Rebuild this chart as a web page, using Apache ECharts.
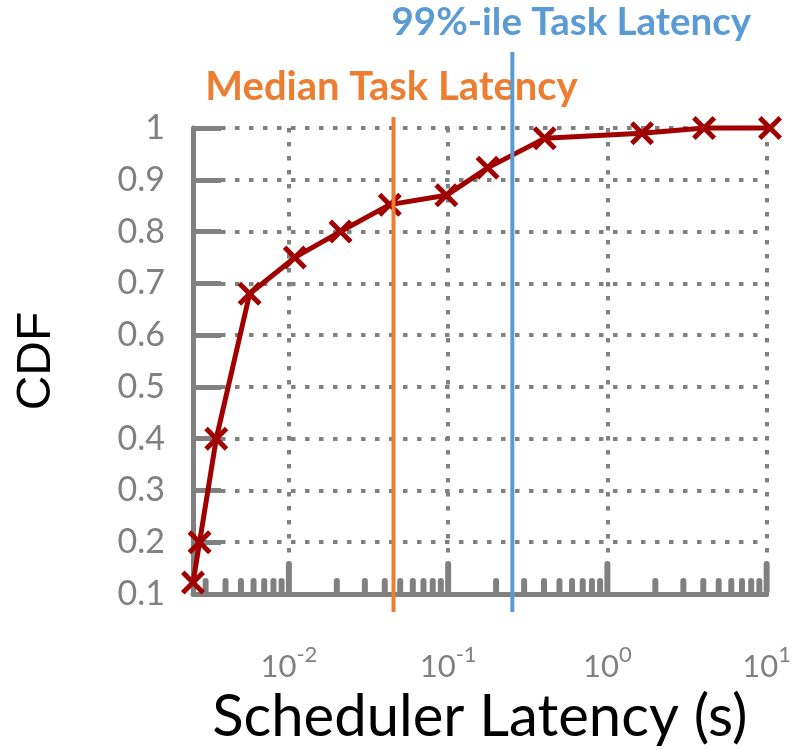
<!DOCTYPE html>
<html>
<head>
<meta charset="utf-8">
<script src="https://cdn.jsdelivr.net/npm/echarts@6/dist/echarts.min.js"></script>
<style>
html,body{margin:0;padding:0;background:#fff;}
#chart{width:794px;height:751px;}
</style>
</head>
<body>
<div id="chart"></div>
<script>
// ---- data ----
const latencyX = [0.0025, 0.00275, 0.0035, 0.00567, 0.0109, 0.0211, 0.043, 0.0975, 0.177, 0.404, 1.65, 4.05, 10.5];
const cdfY     = [0.122, 0.2, 0.4, 0.68, 0.75, 0.8, 0.852, 0.87, 0.923, 0.98, 0.99, 1.0, 1.0];
const xMin = 0.0025, xMax = 10;
const yMin = 0.1, yMax = 1, yStep = 0.1;
const xTickExponents = [-2, -1, 0, 1];
const minorTickValues = [0.003,0.004,0.005,0.006,0.007,0.008,0.009,
                         0.02,0.03,0.04,0.05,0.06,0.07,0.08,0.09,
                         0.2,0.3,0.4,0.5,0.6,0.7,0.8,0.9,
                         2,3,4,5,6,7,8,9];
const refLineValues = [0.0454, 0.253];
const refLineLabels = ['Median Task Latency', '99%-ile Task Latency'];
const xAxisTitle = 'Scheduler Latency (s)';
const yAxisTitle = 'CDF';

// ---- styles ----
const GRAY = '#808080';
const RED = '#A00000';
const refColors = ['#ED7D31', '#5B9BD5'];
const dotted = {color: GRAY, width: 4, type: [4.5, 9.5]};

const chart = echarts.init(document.getElementById('chart'), null, {renderer: 'canvas'});

const seriesData = latencyX.map((x, i) => [x, cdfY[i]]);
const majorTickValues = xTickExponents.map(e => Math.pow(10, e));

function tickSeries(values, h, w) {
  return {
    type: 'custom',
    coordinateSystem: 'cartesian2d',
    clip: false,
    z: 1,
    silent: true,
    data: values.map(v => [v, yMin]),
    renderItem: function (params, api) {
      const p = api.coord([api.value(0), api.value(1)]);
      return {type: 'rect', shape: {x: p[0] - w / 2, y: p[1] - h, width: w, height: h, r: w / 2},
              style: {fill: GRAY}};
    }
  };
}

const option = {
  animation: false,
  backgroundColor: '#fff',
  grid: {left: 193, right: 27, top: 128, bottom: 154},
  xAxis: {
    type: 'log', logBase: 10, min: xMin, max: xMax,
    axisLine: {lineStyle: {color: GRAY, width: 5}},
    axisTick: {show: false},
    splitLine: {show: true, lineStyle: dotted},
    axisLabel: {
      margin: 50,
      formatter: function (v) {
        const e = Math.log10(v);
        const r = Math.round(e);
        if (Math.abs(e - r) > 1e-6 || xTickExponents.indexOf(r) < 0) return '';
        return '{b|10}{s|' + r + '}';
      },
      rich: {
        b: {fontFamily: 'Lato', fontSize: 31, color: GRAY, verticalAlign: 'bottom', lineHeight: 38},
        s: {fontFamily: 'Lato', fontSize: 22, color: GRAY, verticalAlign: 'top', lineHeight: 38}
      }
    },
    name: xAxisTitle, nameLocation: 'middle', nameGap: 94,
    nameTextStyle: {fontFamily: 'Lato', fontSize: 58, color: '#000', verticalAlign: 'top'}
  },
  yAxis: {
    type: 'value', min: yMin, max: yMax, interval: yStep,
    axisLine: {show: true, lineStyle: {color: GRAY, width: 5}},
    axisTick: {show: true, inside: true, length: 28, lineStyle: {color: GRAY, width: 5}},
    splitLine: {show: true, lineStyle: dotted},
    axisLabel: {
      margin: 28, fontFamily: 'Lato', fontSize: 34, color: GRAY,
      formatter: function (v) { return Math.abs(v - 1) < 1e-9 ? '1' : v.toFixed(1); }
    },
    name: yAxisTitle, nameLocation: 'middle', nameRotate: 90, nameGap: 132,
    nameTextStyle: {fontFamily: 'Liberation Sans', fontSize: 48, color: '#000'}
  },
  series: [
    tickSeries(minorTickValues, 16, 6),
    tickSeries(majorTickValues, 33, 6),
    {
      type: 'line',
      data: seriesData,
      clip: false,
      z: 3,
      lineStyle: {color: RED, width: 5},
      itemStyle: {color: RED},
      symbol: 'path://M3.5,0 L12,8.5 L20.5,0 L24,3.5 L15.5,12 L24,20.5 L20.5,24 L12,15.5 L3.5,24 L0,20.5 L8.5,12 L0,3.5 Z',
      symbolSize: 24,
      showAllSymbol: true
    },
    {
      type: 'custom',
      coordinateSystem: 'cartesian2d',
      clip: false,
      z: 5,
      silent: true,
      data: refLineValues.map(v => [v, yMax]),
      renderItem: function (params, api) {
        const i = params.dataIndex;
        const top = api.coord([api.value(0), yMax]);
        const bot = api.coord([api.value(0), yMin]);
        const topOff = i === 0 ? 11 : 76;
        const textDx = i === 0 ? -2 : 59;
        const textBaseline = i === 0 ? top[1] - 21 : top[1] - 86;
        const font = i === 0 ? 'bold 40px Lato' : 'bold 38.5px Lato';
        return {
          type: 'group',
          children: [
            {type: 'line', shape: {x1: top[0], y1: top[1] - topOff, x2: top[0], y2: bot[1] + 18},
             style: {stroke: refColors[i], lineWidth: 4}},
            {type: 'text', x: top[0] + textDx, y: textBaseline,
             style: {text: refLineLabels[i], fill: refColors[i], font: font,
                     align: 'center', verticalAlign: 'bottom'}}
          ]
        };
      }
    }
  ]
};
chart.setOption(option);
</script>
</body>
</html>
